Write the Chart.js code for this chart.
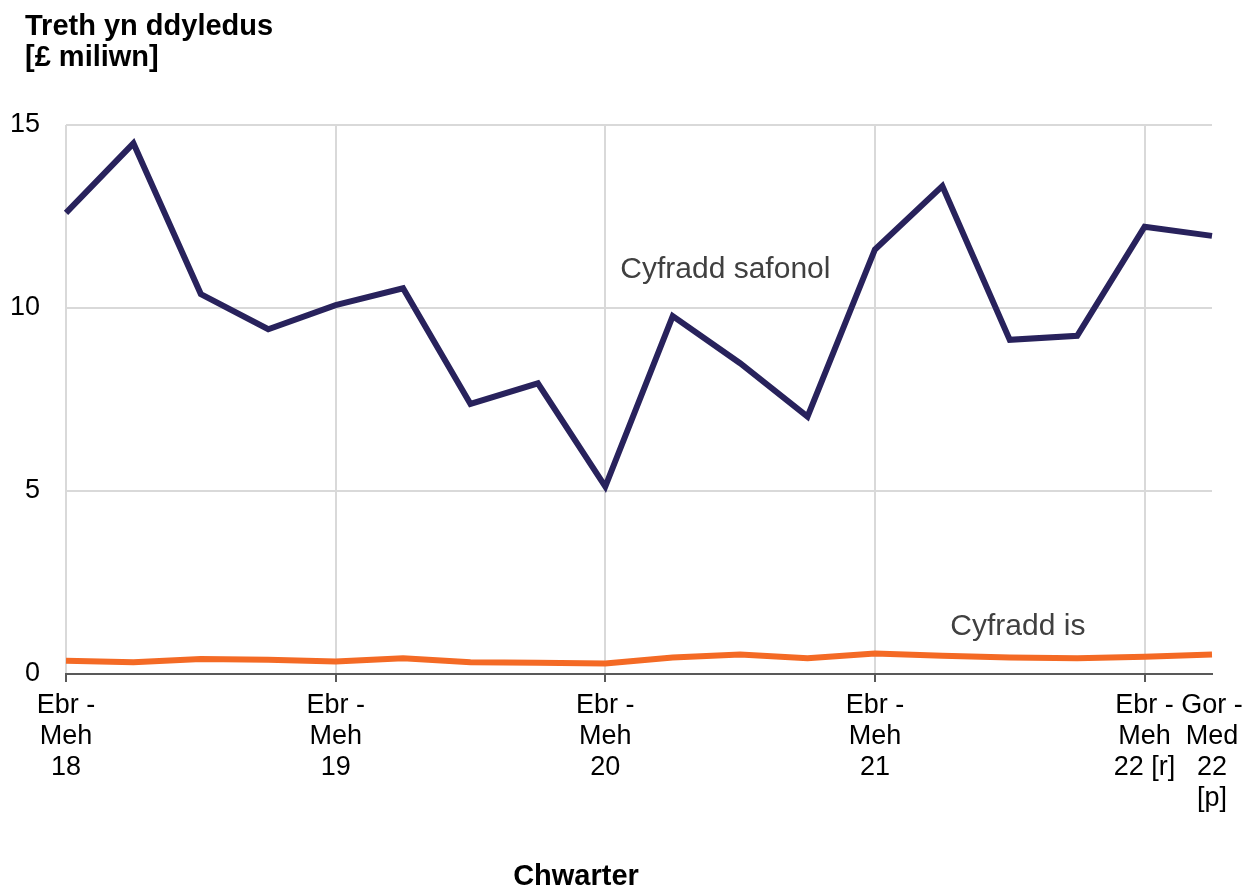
<!DOCTYPE html>
<html>
<head>
<meta charset="utf-8">
<script src="https://cdn.jsdelivr.net/npm/chart.js@4/dist/chart.umd.min.js"></script>
<style>
  html, body { margin: 0; padding: 0; background: #fff; }
  #wrap { width: 1243px; height: 888px; }
</style>
</head>
<body>
<div id="wrap"><canvas id="taxChart" width="1243" height="888"></canvas></div>
<script>
// quarters, Apr-Jun 2018 to Jul-Sep 2022
const quarters = [
    'Ebr - Meh 18', 'Gor - Med 18', 'Hyd - Rhag 18', 'Ion - Maw 19',
    'Ebr - Meh 19', 'Gor - Med 19', 'Hyd - Rhag 19', 'Ion - Maw 20',
    'Ebr - Meh 20', 'Gor - Med 20', 'Hyd - Rhag 20', 'Ion - Maw 21',
    'Ebr - Meh 21', 'Gor - Med 21', 'Hyd - Rhag 21', 'Ion - Maw 22',
    'Ebr - Meh 22 [r]', 'Gor - Med 22 [p]'
];
const tickLabels = [
    ['Ebr -', 'Meh', '18'], '', '', '',
    ['Ebr -', 'Meh', '19'], '', '', '',
    ['Ebr -', 'Meh', '20'], '', '', '',
    ['Ebr -', 'Meh', '21'], '', '', '',
    ['Ebr -', 'Meh', '22 [r]'], ['Gor -', 'Med', '22', '[p]']
];
const gridIndexes = [0, 4, 8, 12, 16];

const standardRate = [12.6, 14.5, 10.38, 9.42, 10.08, 10.54, 7.38, 7.94, 5.12,
    9.78, 8.49, 7.03, 11.6, 13.33, 9.13, 9.24, 12.22, 11.97];
const lowerRate = [0.36, 0.32, 0.41, 0.39, 0.34, 0.43, 0.32, 0.31, 0.29,
    0.45, 0.53, 0.43, 0.56, 0.50, 0.45, 0.43, 0.47, 0.53];

const yTicks = [0, 5, 10, 15];

const FONT = 'Arial, "Liberation Sans", sans-serif';

const textPlugin = {
    id: 'texts',
    afterDraw(chart) {
        const c = chart.ctx;
        const x = chart.scales.x;
        const y = chart.scales.y;
        c.save();
        c.textBaseline = 'middle';
        c.fillStyle = '#000';
        c.font = 'bold 29px ' + FONT;
        c.textAlign = 'left';
        c.fillText('Treth yn ddyledus', 25, 27);
        c.fillText('[£ miliwn]', 25, 58);
        c.textAlign = 'center';
        c.fillText('Chwarter', 576, 877);

        c.font = '30px ' + FONT;
        c.fillStyle = '#404040';
        c.textAlign = 'left';
        c.fillText('Cyfradd safonol', x.getPixelForValue(8) + 15, y.getPixelForValue(11.05));
        c.fillText('Cyfradd is', x.getPixelForValue(13) + 8, y.getPixelForValue(1.3));
        c.restore();
    }
};

const chart = new Chart(document.getElementById('taxChart').getContext('2d'), {
    type: 'line',
    data: {
        labels: quarters,
        datasets: [
            {
                label: 'Cyfradd safonol',
                data: standardRate,
                borderColor: '#28225c',
                borderWidth: 6,
                pointRadius: 0,
                tension: 0,
                fill: false
            },
            {
                label: 'Cyfradd is',
                data: lowerRate,
                borderColor: '#f46a25',
                borderWidth: 6,
                pointRadius: 0,
                tension: 0,
                fill: false
            }
        ]
    },
    options: {
        responsive: false,
        animation: false,
        layout: { padding: { top: 125, right: 31, left: 0, bottom: 0 } },
        plugins: {
            legend: { display: false },
            tooltip: { enabled: false }
        },
        scales: {
            x: {
                offset: false,
                afterFit(scale) {
                    scale.height = 888 - 674;
                    scale.paddingLeft = 0;
                    scale.paddingRight = 0;
                },
                border: { display: true, color: '#595959', width: 2 },
                grid: {
                    lineWidth: 2,
                    tickLength: 8,
                    color: ctx => gridIndexes.includes(ctx.index) ? '#d9d9d9' : 'rgba(0,0,0,0)',
                    tickColor: ctx => gridIndexes.includes(ctx.index) ? '#595959' : 'rgba(0,0,0,0)'
                },
                ticks: {
                    autoSkip: false,
                    maxRotation: 0,
                    padding: 8,
                    color: '#000',
                    font: { family: FONT, size: 27, lineHeight: '31px' },
                    callback: (v, i) => tickLabels[i]
                }
            },
            y: {
                min: 0,
                max: 15,
                afterFit(scale) { scale.width = 66; },
                afterBuildTicks(scale) { scale.ticks = yTicks.map(v => ({ value: v })); },
                border: { display: false },
                grid: {
                    lineWidth: 2,
                    drawTicks: false,
                    color: ctx => ctx.tick.value === 0 ? 'rgba(0,0,0,0)' : '#d9d9d9'
                },
                ticks: {
                    padding: 26,
                    color: '#000',
                    font: { family: FONT, size: 27 }
                }
            }
        }
    },
    plugins: [textPlugin]
});
</script>
</body>
</html>
